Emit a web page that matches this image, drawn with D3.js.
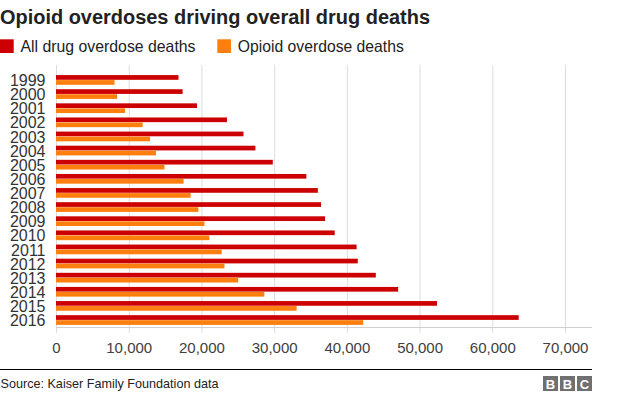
<!DOCTYPE html>
<html><head><meta charset="utf-8">
<script src="https://cdn.jsdelivr.net/npm/d3@7"></script>
<style>
html,body{margin:0;padding:0;background:#fff;}
svg{display:block;font-family:Arial,"Liberation Sans",Helvetica,sans-serif;}
</style></head>
<body>
<svg id="chart" width="624" height="395"></svg>
<script>
const years = ["1999","2000","2001","2002","2003","2004","2005","2006","2007","2008","2009","2010","2011","2012","2013","2014","2015","2016"];
const allDrugDeaths = [16849,17415,19394,23518,25785,27424,29813,34425,36010,36450,37004,38329,41340,41502,43982,47055,52404,63632];
const opioidDeaths = [8050,8407,9496,11920,12940,13756,14918,17545,18516,19582,20422,21089,22784,23166,25052,28647,33091,42249];
const seriesNames = ["All drug overdose deaths","Opioid overdose deaths"];
const seriesColors = ["#cc0000","#ff7f0e"];
const xTicks = [0,10000,20000,30000,40000,50000,60000,70000];

const svg = d3.select("#chart");
const x = d3.scaleLinear().domain([0,70000]).range([56,565]);
const y = d3.scaleBand().domain(years).range([73,327.2]).padding(0);
const ys = d3.scaleBand().domain(seriesNames).range([2.1, 12.1]).padding(0);
const axisY = 327;

function fit(sel, w){
  sel.attr("textLength", w).attr("lengthAdjust","spacingAndGlyphs");
  return sel;
}

// title
fit(svg.append("text").attr("x",0).attr("y",24).attr("font-size",20).attr("font-weight","bold")
  .attr("fill","#222").text("Opioid overdoses driving overall drug deaths"), 430);

// legend
const legX = [0,217.3];
const legW = [175, 166];
seriesNames.forEach((n,i)=>{
  svg.append("rect").attr("x",legX[i]).attr("y",39.3).attr("width",13.7).attr("height",13.7).attr("fill",seriesColors[i]);
  fit(svg.append("text").attr("x",legX[i]+20.5).attr("y",52).attr("font-size",16.5).attr("fill","#222").text(n), legW[i]);
});

// gridlines
svg.append("g").selectAll("line").data(xTicks).join("line")
  .attr("x1",d=>x(d)+0.5).attr("x2",d=>x(d)+0.5).attr("y1",65).attr("y2",axisY+6)
  .attr("stroke","#dddddd").attr("stroke-width",1);

// axis line
svg.append("line").attr("x1",56).attr("x2",592).attr("y1",axisY+0.5).attr("y2",axisY+0.5)
  .attr("stroke","#d0d0d0").attr("stroke-width",1);

// bars
const data = years.map((yr,i)=>({year:yr, values:[allDrugDeaths[i], opioidDeaths[i]]}));
const g = svg.append("g").selectAll("g").data(data).join("g")
  .attr("transform",d=>`translate(0,${y(d.year)})`);
g.selectAll("rect").data(d=>d.values.map((v,i)=>({v,i}))).join("rect")
  .attr("x",x(0)).attr("y",d=>ys(seriesNames[d.i]))
  .attr("width",d=>x(d.v)-x(0)).attr("height",ys.bandwidth()-0.3)
  .attr("fill",d=>seriesColors[d.i]);

// year labels
svg.append("g").selectAll("text").data(years).join("text")
  .attr("x",45.5).attr("y",d=>y(d)+y.bandwidth()/2+6)
  .attr("text-anchor","end").attr("font-size",16).attr("fill","#333").text(d=>d);

// x tick labels
const xAxis = d3.axisBottom(x).tickValues(xTicks).tickSize(0).tickPadding(0)
  .tickFormat(d3.format(","));
const ax = svg.append("g").attr("transform",`translate(0,${axisY})`).call(xAxis);
ax.select(".domain").remove();
ax.selectAll("text").attr("y",25.5).attr("dy",0).attr("font-size",15)
  .attr("font-family","Arial,'Liberation Sans',sans-serif").attr("fill","#404040");

// footer
svg.append("line").attr("x1",0).attr("x2",592).attr("y1",369.5).attr("y2",369.5).attr("stroke","#000").attr("stroke-width",1);
fit(svg.append("text").attr("x",0.5).attr("y",388).attr("font-size",13).attr("fill","#222").text("Source: Kaiser Family Foundation data"), 218);
const bbc = ["B","B","C"];
bbc.forEach((c,i)=>{
  const bx = 543 + i*17;
  svg.append("rect").attr("x",bx).attr("y",376).attr("width",15).attr("height",15).attr("fill","#707070");
  svg.append("text").attr("x",bx+7.5).attr("y",388.5).attr("text-anchor","middle").attr("font-size",13)
    .attr("font-weight","bold").attr("fill","#fff").text(c);
});
</script>
</body></html>
